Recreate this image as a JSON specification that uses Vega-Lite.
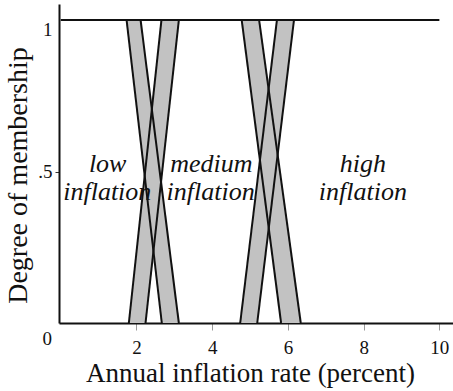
{
  "$schema": "https://vega.github.io/schema/vega-lite/v6.json",
  "width": 394,
  "height": 319,
  "autosize": "none",
  "padding": {"left": 59, "top": 4, "right": 0, "bottom": 68},
  "background": "white",
  "config": {"view": {"stroke": null}, "font": "Liberation Serif"},
  "datasets": {
    "bands": [
      {"band": "A1", "m": 1, "x": 1.74, "x2": 2.11},
      {"band": "A1", "m": 0, "x": 2.67, "x2": 3.12},
      {"band": "A2", "m": 0, "x": 1.80, "x2": 2.24},
      {"band": "A2", "m": 1, "x": 2.66, "x2": 3.12},
      {"band": "A3", "m": 1, "x": 4.78, "x2": 5.24},
      {"band": "A3", "m": 0, "x": 5.82, "x2": 6.34},
      {"band": "A4", "m": 0, "x": 4.74, "x2": 5.19},
      {"band": "A4", "m": 1, "x": 5.71, "x2": 6.16}
    ],
    "lines": [
      {"id": "top", "x": 0, "m": 1},
      {"id": "top", "x": 10, "m": 1},
      {"id": "lowLower", "x": 1.74, "m": 1},
      {"id": "lowLower", "x": 2.67, "m": 0},
      {"id": "lowUpper", "x": 2.11, "m": 1},
      {"id": "lowUpper", "x": 3.12, "m": 0},
      {"id": "medUpperRise", "x": 1.80, "m": 0},
      {"id": "medUpperRise", "x": 2.66, "m": 1},
      {"id": "medLowerRise", "x": 2.24, "m": 0},
      {"id": "medLowerRise", "x": 3.12, "m": 1},
      {"id": "medLowerFall", "x": 4.78, "m": 1},
      {"id": "medLowerFall", "x": 5.82, "m": 0},
      {"id": "medUpperFall", "x": 5.24, "m": 1},
      {"id": "medUpperFall", "x": 6.34, "m": 0},
      {"id": "highUpper", "x": 4.74, "m": 0},
      {"id": "highUpper", "x": 5.71, "m": 1},
      {"id": "highLower", "x": 5.19, "m": 0},
      {"id": "highLower", "x": 6.16, "m": 1}
    ],
    "labels": [
      {"x": 1.24, "m": 0.5, "label": "low"},
      {"x": 1.23, "m": 0.407, "label": "inflation"},
      {"x": 3.98, "m": 0.5, "label": "medium"},
      {"x": 3.96, "m": 0.407, "label": "inflation"},
      {"x": 7.98, "m": 0.5, "label": "high"},
      {"x": 7.98, "m": 0.407, "label": "inflation"}
    ]
  },
  "layer": [
    {
      "data": {"name": "bands"},
      "mark": {"type": "area", "orient": "horizontal", "color": "#c2c2c2", "opacity": 1},
      "encoding": {
        "y": {
          "field": "m", "type": "quantitative", "title": "Degree of membership",
          "scale": {"domain": [0, 1.053], "nice": false, "zero": false},
          "axis": {
            "values": [0.5, 1],
            "labelExpr": "datum.value == 1 ? '1' : '.5'",
            "grid": false,
            "domainColor": "#111", "domainWidth": 2,
            "tickSize": 4, "tickWidth": 1,
            "tickColor": {"condition": {"test": "datum.value == 1", "value": "transparent"}, "value": "#333"},
            "labelBaseline": {"condition": {"test": "datum.value == 1", "value": "top"}, "value": "middle"},
            "labelFont": "Liberation Serif", "labelFontSize": 19, "labelColor": "#111", "labelPadding": 3,
            "labelFlush": false, "labelOverlap": false,
            "titleFont": "Liberation Serif", "titleFontSize": 28, "titleFontWeight": "normal", "titleColor": "#111",
            "titlePadding": 5, "titleY": 171
          }
        },
        "x": {
          "field": "x", "type": "quantitative", "title": "Annual inflation rate (percent)",
          "scale": {"domain": [-0.045, 10.36], "nice": false, "zero": false},
          "axis": {
            "values": [0, 2, 4, 6, 8, 10],
            "grid": false,
            "domainColor": "#111", "domainWidth": 2,
            "tickSize": 7, "tickWidth": 1,
            "tickColor": {"condition": {"test": "datum.value == 0", "value": "transparent"}, "value": "#999"},
            "labelOffset": {"condition": {"test": "datum.value == 0", "value": -14}, "value": 0},
            "labelBaseline": {"condition": {"test": "datum.value == 0", "value": "middle"}, "value": "top"},
            "labelFont": "Liberation Serif", "labelFontSize": 19, "labelColor": "#111", "labelPadding": 8,
            "labelFlush": false, "labelOverlap": false,
            "titleFont": "Liberation Serif", "titleFontSize": 27, "titleFontWeight": "normal", "titleColor": "#111",
            "titleX": 191, "titlePadding": 3
          }
        },
        "x2": {"field": "x2"},
        "detail": {"field": "band"}
      }
    },
    {
      "data": {"name": "lines"},
      "mark": {"type": "line", "color": "#111", "strokeWidth": 2},
      "encoding": {
        "x": {"field": "x", "type": "quantitative", "title": "Annual inflation rate (percent)"},
        "y": {"field": "m", "type": "quantitative", "title": "Degree of membership"},
        "detail": {"field": "id"}
      }
    },
    {
      "data": {"name": "labels"},
      "mark": {"type": "text", "font": "Liberation Serif", "fontStyle": "italic", "fontSize": 26, "baseline": "alphabetic", "align": "center", "color": "#111"},
      "encoding": {
        "x": {"field": "x", "type": "quantitative", "title": "Annual inflation rate (percent)"},
        "y": {"field": "m", "type": "quantitative", "title": "Degree of membership"},
        "text": {"field": "label"}
      }
    }
  ]
}
